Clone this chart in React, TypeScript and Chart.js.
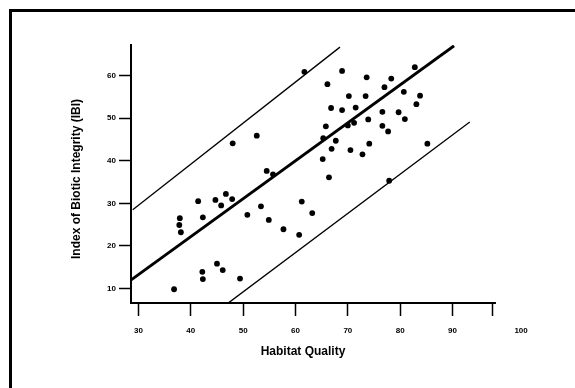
import React, { useEffect, useRef } from 'react';
import { Chart, registerables } from 'chart.js';

Chart.register(...registerables);

// Habitat quality (x) and IBI (y) for each sampled site
const habitatQuality = [
  61.7, 66.1, 48.0, 52.6, 54.5, 55.7, 41.4, 44.7, 46.7, 47.9,
  45.8, 42.3, 37.9, 37.8, 38.1, 50.8, 53.4, 54.9, 57.7, 61.2,
  63.2, 60.7, 45.0, 46.1, 42.2, 42.3, 49.4, 36.8, 68.9, 73.6,
  78.3, 77.0, 82.8, 70.2, 73.4, 80.7, 83.8, 83.1, 66.8, 68.9,
  71.5, 76.6, 79.7, 80.9, 73.9, 65.8, 70.0, 71.2, 76.6, 77.7,
  65.3, 67.7, 66.9, 70.5, 74.1, 72.8, 65.2, 66.4, 85.2, 77.9,
];
const ibi = [
  60.9, 58.0, 44.1, 45.9, 37.6, 36.8, 30.5, 30.8, 32.2, 31.0,
  29.5, 26.7, 26.5, 24.9, 23.2, 27.3, 29.3, 26.1, 23.9, 30.4,
  27.7, 22.6, 15.8, 14.3, 13.9, 12.2, 12.3, 9.8, 61.1, 59.6,
  59.3, 57.3, 62.0, 55.2, 55.2, 56.2, 55.3, 53.3, 52.4, 51.9,
  52.5, 51.5, 51.4, 49.8, 49.7, 48.1, 48.3, 48.9, 48.2, 46.9,
  45.3, 44.7, 42.8, 42.5, 44.0, 41.5, 40.4, 36.1, 44.0, 35.3,
];

// Regression line and its upper / lower bounds (end points)
const fitLineX = [28.6, 90.3];
const fitLineY = [12.0, 67.0];
const upperLineX = [28.9, 68.5];
const upperLineY = [28.5, 66.7];
const lowerLineX = [47.2, 93.3];
const lowerLineY = [6.6, 49.1];

// Axes
const xTickValues = [30, 40, 50, 60, 70, 80, 90, 97.7, 103.1];
const xTickLabels = ['30', '40', '50', '60', '70', '80', '90', '', '100'];
const yTickValues = [10, 20, 30, 40, 50, 60];
const xTitle = 'Habitat Quality';
const yTitle = 'Index of Biotic Integrity (IBI)';

const FONT = '"Liberation Sans", Arial, Helvetica, sans-serif';

export default function App() {
  const ref = useRef<HTMLCanvasElement>(null);

  useEffect(() => {
    if (!ref.current) return;

    const toPts = (xs: number[], ys: number[]) => xs.map((x, i) => ({ x, y: ys[i] }));

    const decor = {
      id: 'decor',
      afterDraw(chart: any) {
        const { ctx } = chart;
        const x = chart.scales.x;
        const y = chart.scales.y;
        ctx.save();
        // x axis line (ends before the last label)
        ctx.strokeStyle = '#000';
        ctx.lineWidth = 2;
        ctx.beginPath();
        ctx.moveTo(x.left, y.bottom);
        ctx.lineTo(x.getPixelForValue(98.3), y.bottom);
        ctx.stroke();
        // axis titles
        ctx.fillStyle = '#000';
        ctx.font = `bold 12px ${FONT}`;
        ctx.textAlign = 'center';
        ctx.textBaseline = 'middle';
        ctx.fillText(xTitle, 303, 352);
        ctx.translate(77, 179);
        ctx.rotate(-Math.PI / 2);
        ctx.fillText(yTitle, 0, 0);
        ctx.restore();
      },
    };

    const chart = new Chart(ref.current, {
      type: 'scatter',
      data: {
        datasets: [
          {
            data: toPts(upperLineX, upperLineY),
            showLine: true,
            borderColor: '#000',
            borderWidth: 1.3,
            pointRadius: 0,
          },
          {
            data: toPts(fitLineX, fitLineY),
            showLine: true,
            borderColor: '#000',
            borderWidth: 3,
            pointRadius: 0,
          },
          {
            data: toPts(lowerLineX, lowerLineY),
            showLine: true,
            borderColor: '#000',
            borderWidth: 1.3,
            pointRadius: 0,
          },
          {
            data: toPts(habitatQuality, ibi),
            backgroundColor: '#000',
            borderWidth: 0,
            pointRadius: 2.9,
          },
        ],
      },
      options: {
        responsive: false,
        animation: false,
        layout: { padding: { left: 0, top: 45, right: 44, bottom: 25 } },
        plugins: { legend: { display: false }, tooltip: { enabled: false } },
        scales: {
          x: {
            type: 'linear',
            min: 28.57,
            max: 105,
            afterBuildTicks: (s: any) => {
              s.ticks = xTickValues.map((v) => ({ value: v }));
            },
            afterFit: (s: any) => {
              s.height = 60;
            },
            border: { display: false },
            grid: {
              drawOnChartArea: false,
              drawTicks: true,
              tickLength: 13,
              tickWidth: 1.5,
              tickColor: (c: any) => (c.tick && c.tick.value === 103.1 ? 'rgba(0,0,0,0)' : '#000'),
            },
            ticks: {
              padding: 10,
              color: '#000',
              autoSkip: false,
              maxRotation: 0,
              font: { family: FONT, size: 8, weight: 'bold' },
              callback: (_v: any, i: number) => xTickLabels[i],
            },
          },
          y: {
            type: 'linear',
            min: 6.57,
            max: 67.2,
            afterBuildTicks: (s: any) => {
              s.ticks = yTickValues.map((v) => ({ value: v }));
            },
            afterFit: (s: any) => {
              s.width = 131;
            },
            border: { display: true, color: '#000', width: 2 },
            grid: {
              drawOnChartArea: false,
              drawTicks: true,
              tickLength: 12,
              tickWidth: 1.5,
              tickColor: '#000',
            },
            ticks: {
              padding: 3,
              color: '#000',
              autoSkip: false,
              font: { family: FONT, size: 8, weight: 'bold' },
              callback: (v: any) => String(v),
            },
          },
        },
      },
      plugins: [decor],
    } as any);

    return () => chart.destroy();
  }, []);

  return (
    <div>
      <canvas
        ref={ref}
        width={575}
        height={388}
        style={{ position: 'absolute', left: 0, top: 0, width: 575, height: 388 }}
      />
      <div
        style={{
          position: 'absolute',
          left: 9,
          top: 9,
          width: 566,
          height: 379,
          boxSizing: 'border-box',
          borderLeft: '3px solid #000',
          borderTop: '3px solid #000',
          pointerEvents: 'none',
        }}
      />
    </div>
  );
}
